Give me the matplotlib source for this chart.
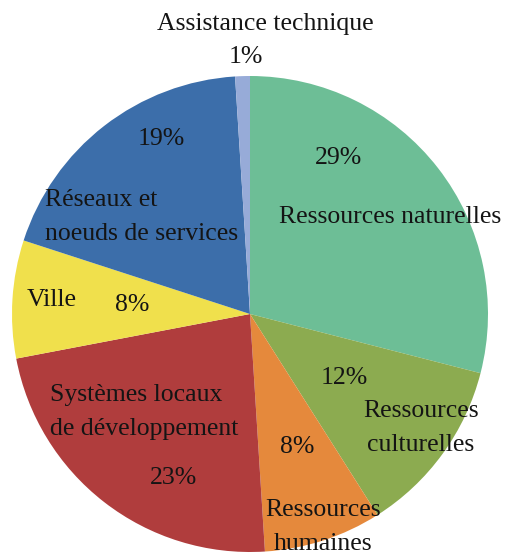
import matplotlib
matplotlib.use("Agg")
import matplotlib.pyplot as plt

categories = ["Ressources naturelles", "Ressources culturelles", "Ressources humaines",
              "Systèmes locaux de développement", "Ville", "Réseaux et noeuds de services",
              "Assistance technique"]
values = [29, 12, 8, 23, 8, 19, 1]
colors = ["#6dbe96", "#8cab50", "#e5893c", "#b03d3d", "#f0e04c", "#3c6eaa", "#97abd8"]

W, H = 509, 557
CX, CY, R = 250, 314, 238

fig = plt.figure(figsize=(W / 100, H / 100), dpi=100)
ax = fig.add_axes([0, 0, 1, 1])
ax.pie(values, colors=colors, startangle=90, counterclock=False, radius=1,
       wedgeprops=dict(linewidth=0, antialiased=True))
ax.set_xlim(-CX / R, (W - CX) / R)
ax.set_ylim((CY - H) / R, CY / R)
ax.set_aspect("auto")
ax.axis("off")

def px(x, y):
    return (x - CX) / R, (CY - y) / R

font = dict(family="Liberation Serif", fontsize=18.5, color="#141414")

# label texts and their pixel anchors (layout only)
labels = [
    ("Assistance technique", 265, 24, "center"),
    (f"{values[6]}%", 246, 57, "center"),
    (f"{values[5]}%", 161, 139, "center"),
    (f"{values[0]}%", 339, 158, "center"),
    ("Ressources naturelles", 390, 217, "center"),
    ("Réseaux et\nnoeuds de services", 45, 217, "left"),
    ("Ville", 52, 300, "center"),
    (f"{values[4]}%", 132, 305, "center"),
    ("Systèmes locaux\nde développement", 50, 412, "left"),
    (f"{values[3]}%", 173, 478, "center"),
    (f"{values[2]}%", 297, 447, "center"),
    ("Ressources\nhumaines", 323, 527, "center"),
    (f"{values[1]}%", 344, 378, "center"),
    ("Ressources\nculturelles", 421, 428, "center"),
]
for text, x, y, ha in labels:
    xd, yd = px(x, y)
    ax.text(xd, yd, text, ha=ha, va="center", multialignment=ha,
            linespacing=1.65, **font)

fig.savefig("out.png", dpi=100)
